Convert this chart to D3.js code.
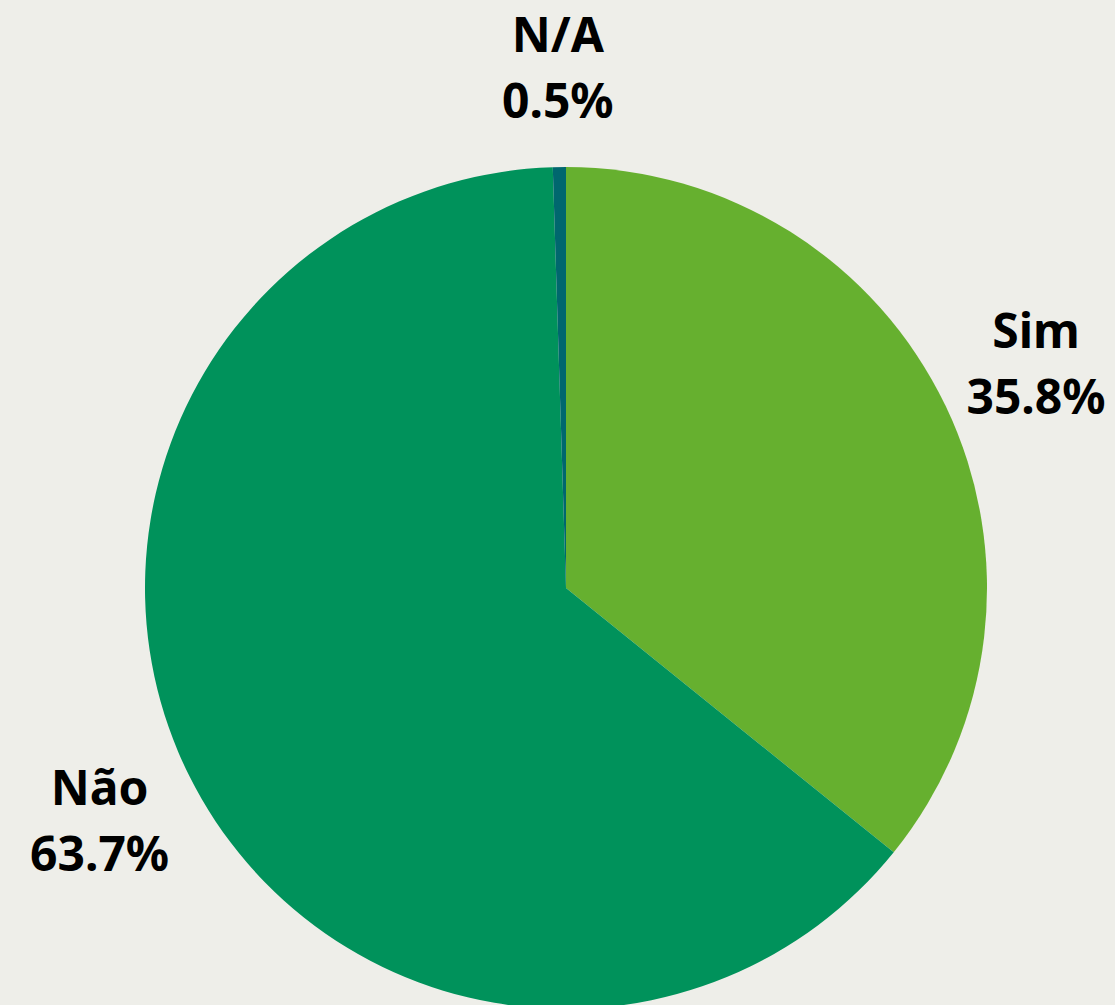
<!DOCTYPE html>
<html>
<head>
<meta charset="utf-8">
<script src="https://cdn.jsdelivr.net/npm/d3@7"></script>
<style>
  html, body { margin: 0; padding: 0; background: #eeeee9; overflow: hidden; }
</style>
</head>
<body>
<div id="wrapper"></div>
<script>
const categories = ["Sim", "Não", "N/A"];
const percentages = [35.8, 63.7, 0.5];
const sliceColors = ["#66b02f", "#00925b", "#00676e"];

const drawPie = () => {
  const width = 1115;
  const height = 1005;
  const cx = 566;
  const cy = 588;
  const radius = 421;
  const labelRadius = 521;

  const data = categories.map((c, i) => ({ category: c, value: percentages[i] }));

  const colorScale = d3.scaleOrdinal().domain(categories).range(sliceColors);

  const svg = d3.select("#wrapper")
    .append("svg")
    .attr("width", width)
    .attr("height", height);

  const g = svg.append("g")
    .attr("transform", `translate(${cx}, ${cy})`);

  const pie = d3.pie().value(d => d.value).sort(null);
  const arc = d3.arc().innerRadius(0).outerRadius(radius);
  const labelArc = d3.arc().innerRadius(labelRadius).outerRadius(labelRadius);

  const arcs = pie(data);

  g.selectAll("path.slice")
    .data(arcs)
    .enter().append("path")
    .attr("class", "slice")
    .attr("d", arc)
    .attr("fill", d => colorScale(d.data.category));

  const labels = g.selectAll("text.label")
    .data(arcs)
    .enter().append("text")
    .attr("class", "label")
    .attr("transform", d => `translate(${labelArc.centroid(d)})`)
    .attr("text-anchor", "middle")
    .style("font-family", "'Noto Sans', 'Open Sans', sans-serif")
    .style("font-weight", "bold")
    .style("font-size", "48px")
    .attr("fill", "#000");

  labels.append("tspan")
    .attr("x", 0)
    .attr("y", -15)
    .text(d => d.data.category);

  labels.append("tspan")
    .attr("x", 0)
    .attr("y", 51)
    .text(d => d3.format(".1f")(d.data.value) + "%");
};

drawPie();
</script>
</body>
</html>
